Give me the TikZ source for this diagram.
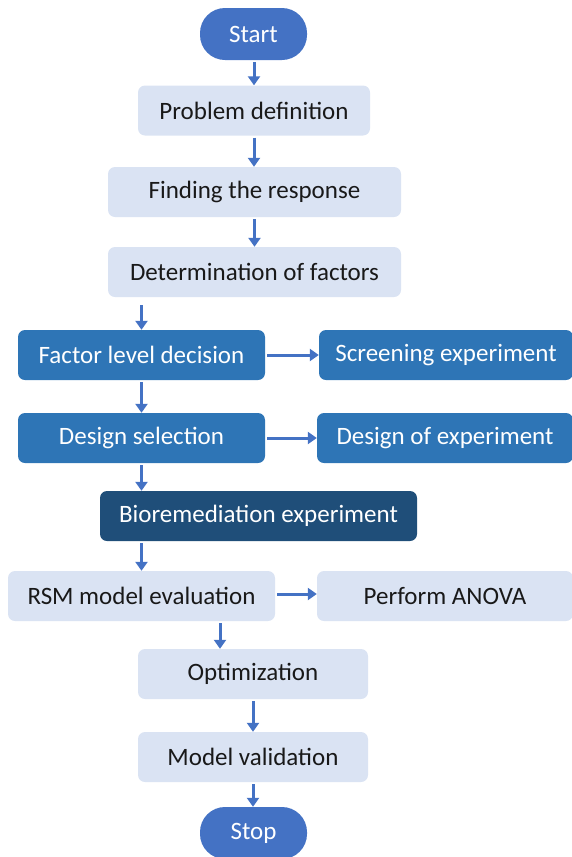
\documentclass[tikz,border=0pt]{standalone}
\usepackage{fontspec}
\setmainfont{Carlito}
\usetikzlibrary{arrows.meta,calc}
\definecolor{term}{HTML}{4472C4}
\definecolor{light}{HTML}{DAE3F3}
\definecolor{mid}{HTML}{2E75B6}
\definecolor{dark}{HTML}{1F4E79}
\definecolor{arr}{HTML}{4472C4}
\begin{document}
\begin{tikzpicture}[x=1pt,y=-1pt,
  every node/.style={font=\fontsize{25}{29}\selectfont, inner sep=0pt, align=center},
  termbox/.style={fill=term, text=white, rounded corners=25pt, minimum width=107pt, minimum height=52pt},
  lightbox/.style={fill=light, text=black!90, rounded corners=7pt, minimum height=50pt},
  midbox/.style={fill=mid, text=white, rounded corners=7pt, minimum height=50pt},
  darkbox/.style={fill=dark, text=white, rounded corners=7pt, minimum height=50pt},
  flow/.style={draw=arr, line width=3pt, -{Triangle[width=12pt,length=9pt]}, shorten <=2pt}
]
\useasboundingbox (0,0) rectangle (571,857);
\node[termbox] (start) at (253.5,34) {Start};
\node[lightbox, minimum width=232pt] (prob) at (254,110.5) {Problem definition};
\node[lightbox, minimum width=293pt] (find) at (254.5,192) {Finding the response};
\node[lightbox, minimum width=293pt] (det) at (254.5,272) {Determination of factors};
\node[midbox, minimum width=247pt] (fld) at (141.5,355) {Factor level decision};
\node[midbox, minimum width=254pt] (scr) at (446,355) {Screening experiment};
\node[midbox, minimum width=247pt] (ds) at (141.5,438) {Design selection};
\node[midbox, minimum width=256pt] (doe) at (445,438) {Design of experiment};
\node[darkbox, minimum width=317pt] (bio) at (258.5,516) {Bioremediation experiment};
\node[lightbox, minimum width=267pt] (rsm) at (141.5,596) {RSM model evaluation};
\node[lightbox, minimum width=256pt] (anova) at (445,596) {Perform ANOVA};
\node[lightbox, minimum width=230pt] (opt) at (253,674) {Optimization};
\node[lightbox, minimum width=230pt] (val) at (253,757) {Model validation};
\node[termbox] (stop) at (253.5,833) {Stop};
\coordinate (optin) at ($(opt.north)+(-33,0)$);

\draw[flow] (start.south -| prob.north) -- (prob.north);
\draw[flow] (prob.south) -- (find.north -| prob.south);
\draw[flow] (find.south) -- (det.north);
\draw[flow, shorten <=8pt] (fld.north |- det.south) -- (fld.north);
\draw[flow] (fld.south) -- (ds.north);
\draw[flow] (ds.south) -- (bio.north -| ds.south);
\draw[flow] (rsm.north |- bio.south) -- (rsm.north);
\draw[flow] (rsm.south -| optin) -- (optin);
\draw[flow] (opt.south) -- (val.north);
\draw[flow] (val.south) -- (stop.north -| val.south);
\draw[flow] (fld.east) -- (scr.west);
\draw[flow] (ds.east) -- (doe.west);
\draw[flow] ([yshift=2pt]rsm.east) -- ([yshift=2pt]anova.west);
\end{tikzpicture}
\end{document}
